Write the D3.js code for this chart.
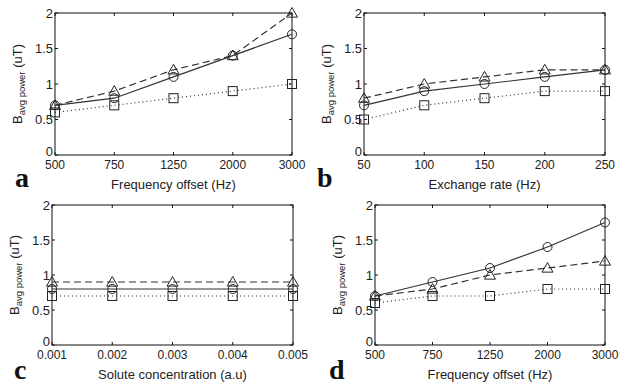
<!DOCTYPE html>
<html>
<head>
<meta charset="utf-8">
<script src="https://cdn.jsdelivr.net/npm/d3@7"></script>
<style>
  body { margin: 0; background: #fff; }
  svg { display: block; font-family: "Liberation Sans", Arial, sans-serif; }
</style>
</head>
<body>
<div id="chart"></div>
<script>
// x categories for each panel
const freqOffsets = ['500', '750', '1250', '2000', '3000'];
const exchangeRates = ['50', '100', '150', '200', '250'];
const soluteConc = ['0.001', '0.002', '0.003', '0.004', '0.005'];
const yTicks = [0, 0.5, 1, 1.5, 2];

// panel a
const aCircle = [0.7, 0.8, 1.1, 1.4, 1.7];
const aTriangle = [0.7, 0.9, 1.2, 1.4, 2.0];
const aSquare = [0.6, 0.7, 0.8, 0.9, 1.0];
// panel b
const bCircle = [0.7, 0.9, 1.0, 1.1, 1.2];
const bTriangle = [0.8, 1.0, 1.1, 1.2, 1.2];
const bSquare = [0.5, 0.7, 0.8, 0.9, 0.9];
// panel c
const cCircle = [0.8, 0.8, 0.8, 0.8, 0.8];
const cTriangle = [0.9, 0.9, 0.9, 0.9, 0.9];
const cSquare = [0.7, 0.7, 0.7, 0.7, 0.7];
// panel d
const dCircle = [0.7, 0.9, 1.1, 1.4, 1.75];
const dTriangle = [0.7, 0.8, 1.0, 1.1, 1.2];
const dSquare = [0.6, 0.7, 0.7, 0.8, 0.8];

const width = 629;
const height = 384;

const svg = d3.select('#chart').append('svg')
    .attr('width', width)
    .attr('height', height);

const panels = [
    { letter: 'a', cats: freqOffsets, title: 'Frequency offset (Hz)', box: [55, 13, 292, 155], lx: 15, ly: 187,
      series: [aCircle, aTriangle, aSquare] },
    { letter: 'b', cats: exchangeRates, title: 'Exchange rate (Hz)', box: [364, 13, 605, 155], lx: 317, ly: 187,
      series: [bCircle, bTriangle, bSquare] },
    { letter: 'c', cats: soluteConc, title: 'Solute concentration (a.u)', box: [52, 205, 293, 345], lx: 14, ly: 379,
      series: [cCircle, cTriangle, cSquare] },
    { letter: 'd', cats: freqOffsets, title: 'Frequency offset (Hz)', box: [375, 205, 605, 345], lx: 329, ly: 379,
      series: [dCircle, dTriangle, dSquare] }
];

// circle: solid, triangle: dashed, square: dotted
const styles = [
    { marker: 'circle', dash: null },
    { marker: 'triangle', dash: '7,4' },
    { marker: 'square', dash: '1,3' }
];

function drawMarker(g, type, cx, cy) {
    if (type === 'circle') {
        g.append('circle').attr('cx', cx).attr('cy', cy).attr('r', 4.5);
    } else if (type === 'square') {
        g.append('rect').attr('x', cx - 4.5).attr('y', cy - 4.5).attr('width', 9).attr('height', 9);
    } else {
        const s = 5.5;
        g.append('path').attr('d', `M${cx},${cy - s}L${cx + s},${cy + s * 0.75}L${cx - s},${cy + s * 0.75}Z`);
    }
}

function drawPanel(p) {
    const [x0, y0, x1, y1] = p.box;
    const x = d3.scalePoint().domain(p.cats).range([x0, x1]).padding(0);
    const y = d3.scaleLinear().domain([0, 2]).range([y1, y0]);
    const g = svg.append('g');

    // frame
    g.append('rect')
        .attr('x', x0).attr('y', y0)
        .attr('width', x1 - x0).attr('height', y1 - y0)
        .attr('fill', 'none').attr('stroke', '#111').attr('stroke-width', 1);

    // inward ticks on all four sides
    const tl = 3;
    p.cats.forEach(c => {
        g.append('line').attr('x1', x(c)).attr('x2', x(c)).attr('y1', y1).attr('y2', y1 - tl).attr('stroke', '#111');
        g.append('line').attr('x1', x(c)).attr('x2', x(c)).attr('y1', y0).attr('y2', y0 + tl).attr('stroke', '#111');
        g.append('text')
            .attr('x', x(c)).attr('y', y1 + 14)
            .attr('text-anchor', 'middle')
            .attr('font-size', 12).attr('fill', '#222')
            .text(c);
    });
    yTicks.forEach(t => {
        g.append('line').attr('x1', x0).attr('x2', x0 + tl).attr('y1', y(t)).attr('y2', y(t)).attr('stroke', '#111');
        g.append('line').attr('x1', x1).attr('x2', x1 - tl).attr('y1', y(t)).attr('y2', y(t)).attr('stroke', '#111');
        g.append('text')
            .attr('x', x0 - 2).attr('y', y(t)).attr('dy', t === 0 ? '0.05em' : '0.35em')
            .attr('text-anchor', 'end')
            .attr('font-size', 13).attr('fill', '#222')
            .text(t);
    });

    // x axis title
    g.append('text')
        .attr('x', (x0 + x1) / 2).attr('y', y1 + 34)
        .attr('text-anchor', 'middle')
        .attr('font-size', 13).attr('fill', '#222')
        .text(p.title);

    // y axis title with subscript
    const yt = g.append('text')
        .attr('transform', `translate(${x0 - 33},${(y0 + y1) / 2}) rotate(-90)`)
        .attr('text-anchor', 'middle')
        .attr('font-size', 13).attr('fill', '#222');
    yt.append('tspan').text('B');
    yt.append('tspan').attr('font-size', 9.5).attr('dy', 3).text('avg power');
    yt.append('tspan').attr('dy', -3).text(' (uT)');

    // panel letter
    svg.append('text')
        .attr('x', p.lx).attr('y', p.ly)
        .attr('font-family', '"Liberation Serif", "Times New Roman", serif')
        .attr('font-weight', 'bold')
        .attr('font-size', 28).attr('fill', '#111')
        .text(p.letter);

    const line = d3.line()
        .x((d, i) => x(p.cats[i]))
        .y(d => y(d));

    p.series.forEach((vals, si) => {
        const st = styles[si];
        g.append('path')
            .datum(vals)
            .attr('d', line)
            .attr('fill', 'none')
            .attr('stroke', '#333')
            .attr('stroke-width', 1.2)
            .attr('stroke-dasharray', st.dash);
        const mg = g.append('g').attr('fill', 'none').attr('stroke', '#222').attr('stroke-width', 1);
        vals.forEach((v, i) => drawMarker(mg, st.marker, x(p.cats[i]), y(v)));
    });
}

panels.forEach(drawPanel);
</script>
</body>
</html>
